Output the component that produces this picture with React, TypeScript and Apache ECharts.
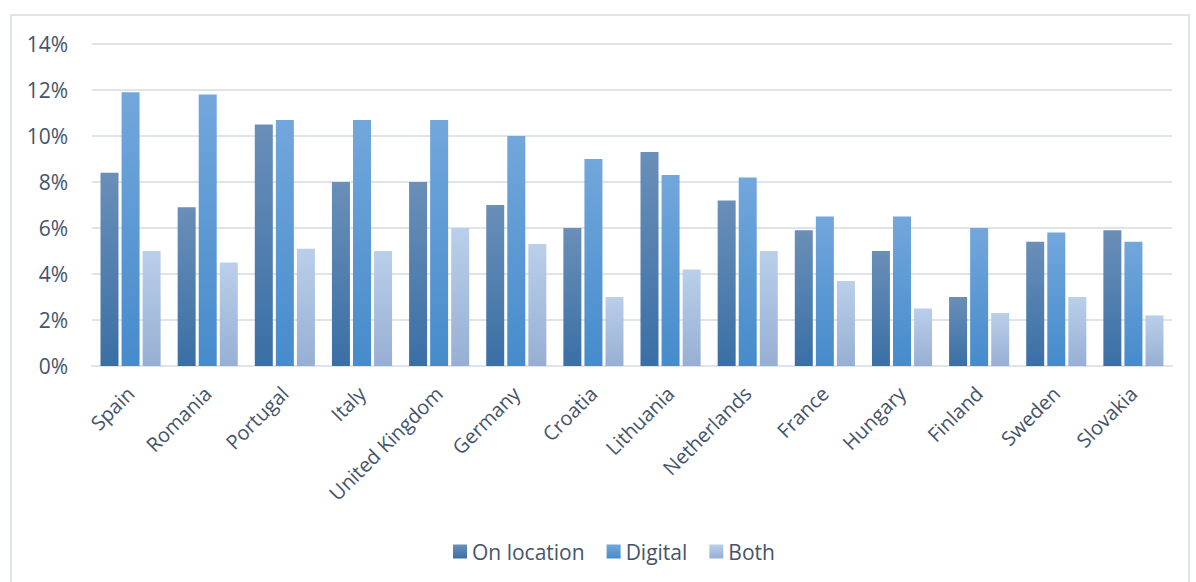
import React, { useEffect, useRef } from "react";
import * as echarts from "echarts";

const categories = [
  "Spain", "Romania", "Portugal", "Italy", "United Kingdom", "Germany", "Croatia",
  "Lithuania", "Netherlands", "France", "Hungary", "Finland", "Sweden", "Slovakia",
];
const onLocation = [8.4, 6.9, 10.5, 8.0, 8.0, 7.0, 6.0, 9.3, 7.2, 5.9, 5.0, 3.0, 5.4, 5.9];
const digital = [11.9, 11.8, 10.7, 10.7, 10.7, 10.0, 9.0, 8.3, 8.2, 6.5, 6.5, 6.0, 5.8, 5.4];
const both = [5.0, 4.5, 5.1, 5.0, 6.0, 5.3, 3.0, 4.2, 5.0, 3.7, 2.5, 2.3, 3.0, 2.2];
const seriesNames = ["On location", "Digital", "Both"];

const grad = (top: string, bottom: string) =>
  new echarts.graphic.LinearGradient(0, 0, 0, 1, [
    { offset: 0, color: top },
    { offset: 1, color: bottom },
  ]);

const FONT = "Open Sans";
const TEXT = "#44546a";

export default function App() {
  const ref = useRef<HTMLDivElement>(null);
  useEffect(() => {
    document.body.style.margin = "0";
    const chart = echarts.init(ref.current!, undefined, { renderer: "svg" });
    const colors = [
      grad("#6a8fb8", "#3a6fa5"),
      grad("#72a7dc", "#468bcb"),
      grad("#bacfea", "#97afd4"),
    ];
    const datas = [onLocation, digital, both];
    chart.setOption({
      animation: false,
      textStyle: { fontFamily: FONT },
      graphic: [
        {
          type: "rect",
          shape: { x: 11, y: 15, width: 1178, height: 600 },
          style: { fill: "none", stroke: "#dfe3ea", lineWidth: 2 },
          silent: true,
        },
      ],
      grid: { left: 92, right: 24, top: 44, bottom: 216, containLabel: false },
      legend: {
        top: 536,
        left: 448,
        icon: "rect",
        itemWidth: 14,
        itemHeight: 14,
        itemGap: 22,
        textStyle: { color: TEXT, fontSize: 21, fontFamily: FONT },
        data: seriesNames,
      },
      xAxis: {
        type: "category",
        data: categories,
        axisLine: { lineStyle: { color: "#dfe3ea", width: 2 } },
        axisTick: { show: false },
        axisLabel: {
          rotate: 45,
          interval: 0,
          color: TEXT,
          fontSize: 20,
          fontFamily: FONT,
          margin: 24,
        },
      },
      yAxis: {
        type: "value",
        min: 0,
        max: 14,
        interval: 2,
        axisLine: { show: false },
        axisTick: { show: false },
        axisLabel: {
          formatter: "{value}%",
          color: TEXT,
          fontSize: 21,
          fontFamily: FONT,
          margin: 24,
        },
        splitLine: { lineStyle: { color: "#dfe3ea", width: 2 } },
      },
      series: seriesNames.map((name, i) => ({
        name,
        type: "bar",
        data: datas[i],
        barWidth: 18,
        barGap: "17%",
        itemStyle: { color: colors[i] },
      })),
    });
    return () => chart.dispose();
  }, []);
  return <div ref={ref} style={{ width: 1196, height: 582 }} />;
}
